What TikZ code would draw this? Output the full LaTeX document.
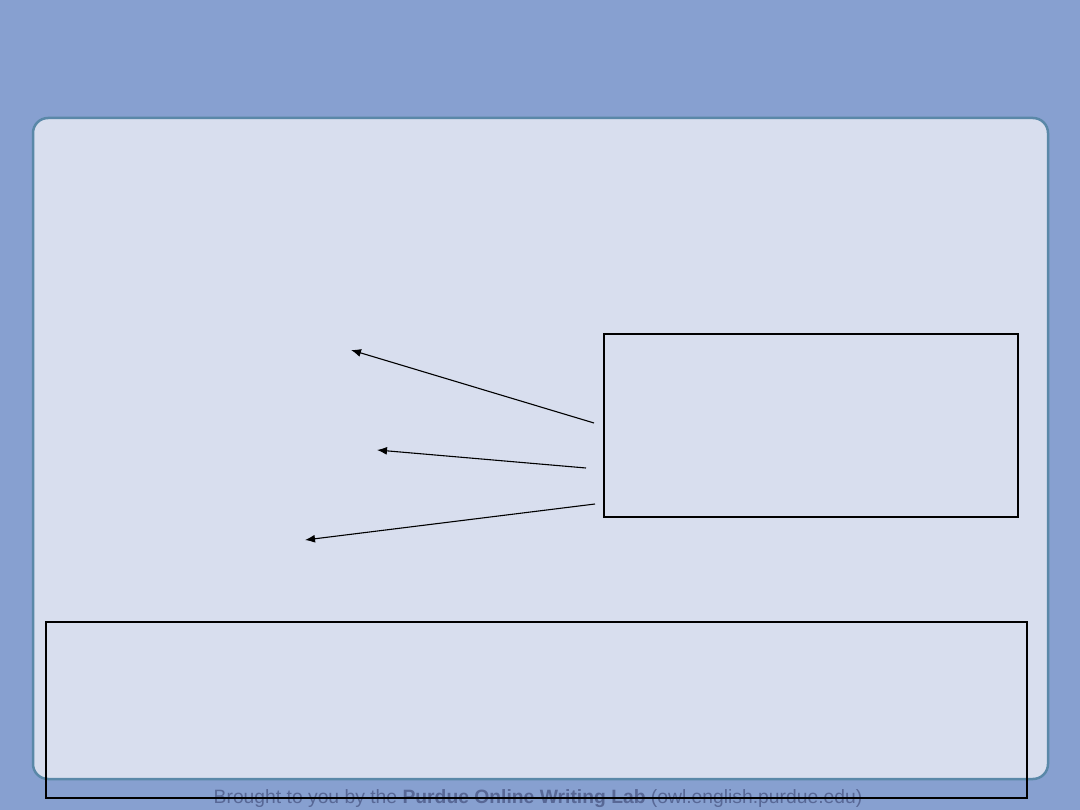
\documentclass[tikz,border=0pt]{standalone}
\usepackage{fontspec}
\setmainfont{Liberation Sans}
\usetikzlibrary{arrows.meta}
\definecolor{bgblue}{RGB}{135,160,208}
\definecolor{panel}{RGB}{216,222,238}
\definecolor{paneledge}{RGB}{90,136,168}
\definecolor{foot}{RGB}{88,104,150}
\tikzset{
  boxed/.style={draw=black, line width=1.6pt},
  pointer/.style={draw=black, line width=1.1pt, -{Latex[length=10pt,width=8pt]}}
}
\begin{document}
\begin{tikzpicture}[x=1pt,y=-1pt]
\fill[bgblue] (0,0) rectangle (1080,810);
\useasboundingbox (0,0) rectangle (1080,810);
\draw[paneledge, line width=2.5pt, fill=panel, rounded corners=15pt] (33,118) rectangle (1048,779);
\node[text=foot, font=\fontsize{19.3}{21}\selectfont, anchor=base] (foot) at (538,803) {Brought to you by the \textbf{Purdue Online Writing Lab} (owl.english.purdue.edu)};
\node[boxed, minimum width=414pt, minimum height=183pt, anchor=north west, inner sep=0pt] (rbox) at (603,333) {};
\node[boxed, minimum width=981pt, minimum height=176pt, anchor=north west, inner sep=0pt] (bbox) at (45,621) {};
\coordinate (s1) at (594,423);
\coordinate (t1) at (351,350);
\coordinate (s2) at (586,468);
\coordinate (t2) at (377,450);
\coordinate (s3) at (595,504);
\coordinate (t3) at (305,540);
\draw[pointer] (s1) -- (t1);
\draw[pointer] (s2) -- (t2);
\draw[pointer] (s3) -- (t3);
\end{tikzpicture}
\end{document}
